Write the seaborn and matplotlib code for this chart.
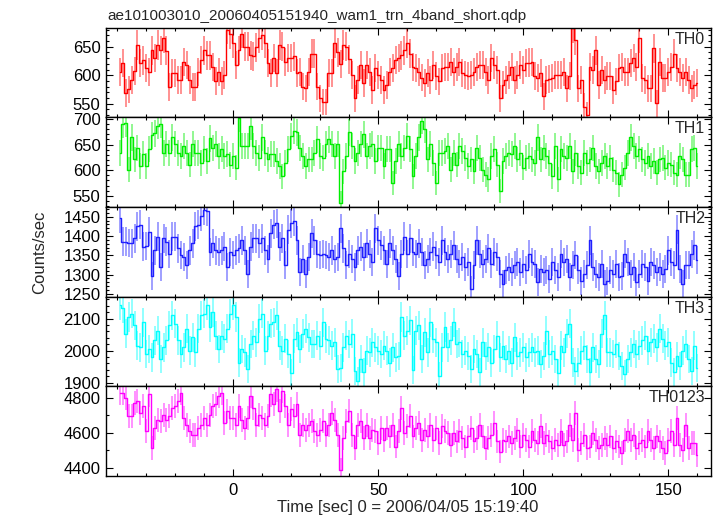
import numpy as np
import matplotlib
matplotlib.use('Agg')
import matplotlib.pyplot as plt
from matplotlib.ticker import MultipleLocator
import seaborn as sns

# 1-s bins, time relative to 2006/04/05 15:19:40
t = np.arange(-39, 161)

th0 = [606, 621, 569, 575, 592, 608, 653, 621, 626, 612,
       606, 644, 630, 653, 644, 665, 643, 579, 604, 604,
       592, 592, 623, 618, 592, 579, 579, 606, 627, 644,
       635, 635, 615, 590, 606, 590, 601, 680, 672, 656,
       618, 644, 673, 650, 650, 635, 633, 649, 665, 670,
       656, 621, 604, 630, 604, 653, 650, 623, 630, 630,
       633, 604, 606, 580, 577, 606, 638, 638, 580, 560,
       553, 553, 604, 604, 656, 640, 620, 653, 650, 628,
       600, 560, 592, 618, 586, 618, 606, 574, 612, 600,
       592, 574, 583, 606, 612, 627, 630, 635, 644, 656,
       638, 615, 612, 606, 596, 586, 604, 592, 618, 598,
       589, 612, 614, 615, 623, 606, 615, 623, 604, 600,
       598, 601, 606, 615, 618, 618, 605, 592, 630, 618,
       609, 560, 583, 592, 600, 615, 592, 601, 618, 609,
       621, 622, 623, 598, 595, 604, 563, 592, 594, 595,
       601, 601, 601, 606, 577, 598, 682, 662, 577, 592,
       545, 530, 615, 609, 644, 583, 609, 592, 598, 598,
       574, 589, 612, 615, 606, 606, 621, 630, 615, 665,
       595, 592, 577, 577, 647, 551, 623, 595, 595, 605,
       615, 638, 612, 606, 595, 606, 592, 577, 583, 586]

th1 = [634, 690, 692, 601, 664, 621, 644, 608, 631, 608,
       641, 668, 672, 687, 690, 634, 651, 634, 664, 651,
       634, 628, 647, 634, 611, 651, 634, 634, 614, 641,
       618, 662, 644, 651, 628, 641, 628, 631, 611, 628,
       605, 701, 647, 647, 647, 686, 647, 634, 624, 664,
       634, 621, 631, 631, 618, 608, 588, 614, 641, 667,
       677, 674, 644, 628, 608, 621, 621, 634, 660, 628,
       624, 651, 660, 651, 628, 651, 536, 598, 628, 674,
       647, 618, 634, 651, 670, 628, 647, 651, 618, 644,
       644, 608, 641, 641, 575, 618, 651, 628, 644, 667,
       641, 588, 628, 664, 697, 680, 621, 651, 614, 575,
       634, 634, 638, 647, 601, 634, 611, 647, 638, 624,
       608, 621, 598, 644, 624, 601, 591, 582, 628, 641,
       611, 559, 618, 628, 634, 631, 647, 621, 634, 605,
       624, 628, 621, 614, 664, 621, 644, 628, 614, 588,
       647, 582, 641, 628, 624, 647, 598, 634, 608, 595,
       634, 614, 621, 644, 608, 598, 614, 628, 608, 624,
       601, 595, 572, 591, 605, 634, 664, 647, 628, 641,
       621, 614, 628, 608, 618, 595, 621, 624, 605, 614,
       611, 595, 591, 628, 621, 591, 591, 641, 644, 608]

th2 = [1446, 1385, 1385, 1382, 1381, 1394, 1425, 1429, 1372, 1374,
       1411, 1297, 1363, 1398, 1319, 1394, 1385, 1354, 1398, 1398,
       1368, 1350, 1346, 1324, 1363, 1381, 1425, 1429, 1451, 1468,
       1464, 1359, 1381, 1363, 1359, 1363, 1372, 1319, 1359, 1350,
       1363, 1368, 1389, 1363, 1302, 1372, 1394, 1394, 1381, 1394,
       1363, 1341, 1407, 1429, 1433, 1372, 1394, 1324, 1416, 1433,
       1438, 1389, 1306, 1341, 1302, 1346, 1407, 1389, 1354, 1350,
       1354, 1350, 1346, 1363, 1341, 1346, 1420, 1368, 1324, 1354,
       1341, 1319, 1363, 1372, 1346, 1381, 1354, 1332, 1420, 1389,
       1376, 1363, 1328, 1381, 1363, 1341, 1297, 1354, 1398, 1354,
       1394, 1359, 1354, 1381, 1359, 1324, 1341, 1359, 1372, 1350,
       1332, 1389, 1359, 1341, 1354, 1376, 1341, 1328, 1346, 1319,
       1332, 1262, 1324, 1389, 1354, 1328, 1341, 1368, 1328, 1359,
       1346, 1302, 1275, 1311, 1319, 1306, 1324, 1332, 1306, 1328,
       1311, 1354, 1332, 1328, 1280, 1315, 1306, 1311, 1289, 1332,
       1311, 1293, 1354, 1332, 1341, 1293, 1324, 1350, 1311, 1284,
       1302, 1324, 1389, 1319, 1302, 1293, 1328, 1275, 1284, 1311,
       1302, 1328, 1293, 1297, 1354, 1332, 1302, 1319, 1280, 1302,
       1328, 1319, 1284, 1332, 1324, 1306, 1319, 1302, 1315, 1363,
       1332, 1324, 1416, 1315, 1275, 1324, 1324, 1354, 1376, 1337]

th3 = [2142, 2132, 2053, 2105, 2116, 2079, 2016, 2010, 2089, 1989,
       2005, 1979, 2032, 2063, 1974, 2010, 2032, 2079, 2110, 2084,
       2032, 1989, 2010, 2068, 2000, 2042, 1995, 2068, 2110, 2116,
       2142, 2074, 2121, 2047, 2005, 2047, 2037, 2068, 2116, 2142,
       2105, 1963, 2005, 1995, 1942, 2021, 2047, 2026, 2100, 2116,
       2000, 2047, 2084, 2089, 2110, 2016, 2000, 2037, 1989, 1930,
       2037, 2058, 2005, 2053, 2068, 2042, 2021, 2021, 2047, 2016,
       2089, 2037, 2032, 2016, 2026, 1942, 1947, 2010, 2047, 2021,
       2053, 1937, 1905, 1974, 1932, 2000, 1995, 2026, 2010, 2000,
       1989, 2016, 2000, 1963, 2010, 1979, 1984, 2105, 2047, 2063,
       2095, 1940, 2063, 2079, 1974, 2058, 1995, 2089, 2037, 2026,
       1921, 2010, 2074, 2010, 2032, 2089, 2021, 2026, 1989, 2000,
       1984, 1942, 2005, 1989, 1932, 2026, 1984, 2010, 1963, 2005,
       2047, 1979, 2016, 1974, 2000, 1963, 2042, 1984, 1995, 2010,
       1979, 1995, 2010, 1995, 2000, 1958, 1984, 2063, 1989, 2000,
       1974, 1930, 2016, 1995, 2053, 2084, 1963, 1937, 1963, 2000,
       2016, 1974, 1932, 2010, 1974, 1958, 2053, 2110, 1995, 1995,
       1989, 2021, 1984, 1953, 1926, 1974, 1995, 2021, 1989, 2016,
       2032, 2047, 2000, 2026, 2037, 2010, 2068, 2037, 2016, 2026,
       1963, 1932, 1984, 1953, 2000, 2021, 1974, 1937, 2016, 1947]

th0123 = [4829, 4829, 4800, 4694, 4694, 4771, 4781, 4713, 4752, 4608,
          4819, 4512, 4627, 4675, 4665, 4704, 4675, 4694, 4742, 4752,
          4781, 4829, 4685, 4646, 4608, 4588, 4588, 4627, 4646, 4685,
          4646, 4704, 4752, 4762, 4810, 4829, 4656, 4723, 4685, 4685,
          4646, 4752, 4675, 4627, 4685, 4810, 4742, 4646, 4704, 4685,
          4646, 4694, 4819, 4762, 4848, 4723, 4838, 4752, 4646, 4733,
          4694, 4762, 4588, 4646, 4617, 4646, 4665, 4608, 4588, 4617,
          4665, 4588, 4646, 4713, 4675, 4588, 4387, 4569, 4665, 4723,
          4588, 4512, 4646, 4665, 4569, 4646, 4569, 4617, 4608, 4540,
          4627, 4560, 4627, 4579, 4646, 4521, 4608, 4742, 4598, 4637,
          4694, 4579, 4627, 4656, 4560, 4617, 4579, 4646, 4560, 4627,
          4540, 4637, 4608, 4598, 4531, 4598, 4550, 4608, 4569, 4521,
          4579, 4627, 4550, 4569, 4646, 4579, 4512, 4569, 4588, 4656,
          4550, 4492, 4560, 4550, 4579, 4540, 4569, 4617, 4521, 4588,
          4560, 4521, 4608, 4560, 4540, 4637, 4540, 4588, 4550, 4512,
          4560, 4531, 4608, 4531, 4550, 4646, 4560, 4713, 4502, 4540,
          4588, 4512, 4521, 4598, 4560, 4512, 4531, 4569, 4531, 4579,
          4512, 4550, 4521, 4483, 4560, 4608, 4560, 4588, 4512, 4540,
          4560, 4521, 4608, 4560, 4512, 4579, 4550, 4512, 4483, 4560,
          4608, 4531, 4685, 4531, 4502, 4646, 4512, 4540, 4540, 4473]

names = ['TH0', 'TH1', 'TH2', 'TH3', 'TH0123']
series = [th0, th1, th2, th3, th0123]
colors = ['#ff0000', '#00ee00', '#2020ff', '#00ffff', '#ff00ff']
ylims = [(526, 683), (528, 703), (1243, 1475), (1889, 2169), (4354, 4866)]
majors = [50, 50, 50, 100, 200]
minors = [10, 10, 10, 20, 100]

sns.set_style('ticks')
plt.rcParams['font.family'] = ['Liberation Sans', 'DejaVu Sans']

fig, axes = plt.subplots(5, 1, sharex=True, figsize=(7.17, 5.16), dpi=100,
                         gridspec_kw=dict(hspace=0))
plt.subplots_adjust(left=0.148, right=0.992, top=0.946, bottom=0.078)

for ax, name, vals, c, yl, mj, mn in zip(axes, names, series, colors, ylims, majors, minors):
    y = np.array(vals, dtype=float)
    err = np.sqrt(y)  # poisson errors for 1 s bins
    ax.errorbar(t, y, yerr=err, fmt='none', ecolor=c, elinewidth=1.2, alpha=0.5)
    sns.lineplot(x=t, y=y, ax=ax, color=c, lw=1.0, drawstyle='steps-mid',
                 estimator=None)
    ax.set_ylim(*yl)
    ax.set_xlim(-43.8, 164.8)
    ax.yaxis.set_major_locator(MultipleLocator(mj))
    ax.yaxis.set_minor_locator(MultipleLocator(mn))
    ax.xaxis.set_major_locator(MultipleLocator(50))
    ax.xaxis.set_minor_locator(MultipleLocator(10))
    ax.tick_params(which='both', direction='in', top=True, right=True,
                   width=0.8, colors='black', labelsize=12)
    ax.tick_params(which='major', length=5)
    ax.tick_params(which='minor', length=2.5)
    ax.tick_params(axis='y', pad=4)
    ax.tick_params(axis='x', pad=5)
    for s in ax.spines.values():
        s.set_linewidth(1.0)
        s.set_color('black')
    ax.set_xlabel('')
    ax.set_ylabel('')
    ax.text(0.99, 0.955, name, transform=ax.transAxes, ha='right', va='top',
            fontsize=11.5)

fig.text(107 / 717, 1 - 20 / 516, 'ae101003010_20060405151940_wam1_trn_4band_short.qdp',
         ha='left', va='baseline', fontsize=11)
fig.text(408 / 717, 1 - 512 / 516, 'Time [sec] 0 = 2006/04/05 15:19:40',
         ha='center', va='baseline', fontsize=12)
fig.text(40 / 717, 1 - 252 / 516, 'Counts/sec', rotation=90,
         ha='center', va='center', fontsize=12)

plt.savefig('out.png', dpi=100)
